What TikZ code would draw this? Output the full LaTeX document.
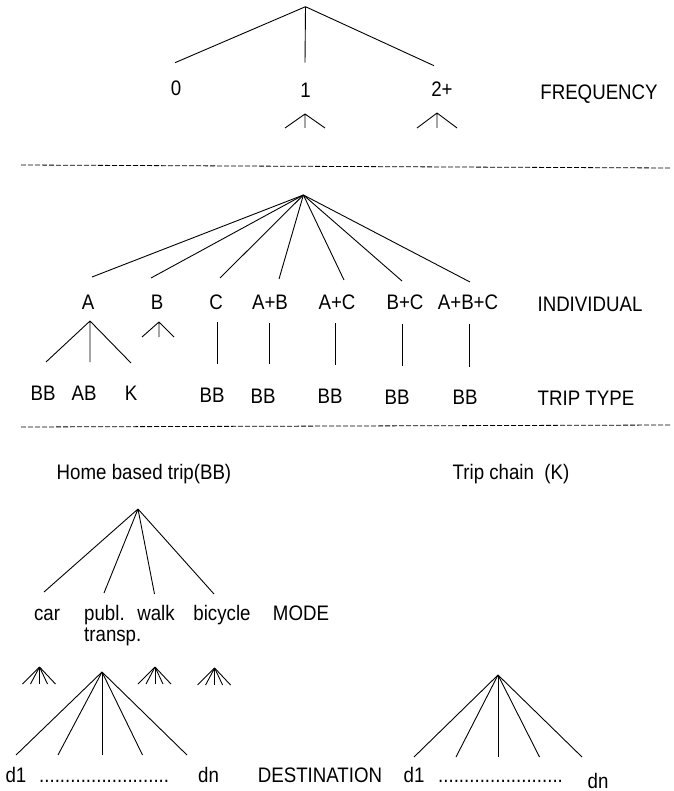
\documentclass[tikz,border=0pt]{standalone}
\usepackage{fontspec}
\setmainfont{Liberation Sans}[FakeStretch=0.89]
\begin{document}
\begin{tikzpicture}[x=1pt,y=-1pt,
  every node/.style={font=\fontsize{21}{24}\selectfont, inner sep=0pt},
  edge/.style={line width=0.9pt},
  sepline/.style={line width=0.8pt, dash pattern=on 5pt off 2pt}]
\useasboundingbox (0,0) rectangle (673,791);

% ---------------- FREQUENCY ----------------
\coordinate (fr) at (305.5,6.7);
\coordinate (fr0) at (175,62.7);
\coordinate (fr1) at (305,62.7);
\coordinate (fr2) at (434,65.7);
\draw[edge] (fr) -- (fr0) (fr) -- (fr1) (fr) -- (fr2);
\node[anchor=base] (l0) at (176,96) {0};
\node[anchor=base] (l1) at (305.5,98) {1};
\node[anchor=base] (l2) at (442,97) {2+};
\node[anchor=base] (lfreq) at (599,99.5) {FREQUENCY};
\coordinate (t1) at (305,114);
\coordinate (t1a) at (285,128); \coordinate (t1b) at (305,128); \coordinate (t1c) at (325,128);
\draw[edge] (t1) -- (t1a) (t1) -- (t1b) (t1) -- (t1c);
\coordinate (t2) at (437,113);
\coordinate (t2a) at (417,128); \coordinate (t2b) at (437,128); \coordinate (t2c) at (457,128);
\draw[edge] (t2) -- (t2a) (t2) -- (t2b) (t2) -- (t2c);

\coordinate (s1l) at (21,165); \coordinate (s1r) at (670,168);
\draw[sepline] (s1l) -- (s1r);

% ---------------- INDIVIDUAL ----------------
\coordinate (ind) at (303.4,195);
\coordinate (iA) at (92,277);
\coordinate (iB) at (151,278);
\coordinate (iC) at (220,278);
\coordinate (iAB) at (279,279);
\coordinate (iAC) at (344,280);
\coordinate (iBC) at (402,281);
\coordinate (iABC) at (470,282);
\foreach \e in {iA,iB,iC,iAB,iAC,iBC,iABC} \draw[edge] (ind) -- (\e);
\node[anchor=base] (nA) at (88,309.5) {A};
\node[anchor=base] (nB) at (157,309.5) {B};
\node[anchor=base] (nC) at (216,309.5) {C};
\node[anchor=base] (nAB) at (270,309.5) {A+B};
\node[anchor=base] (nAC) at (337,309.5) {A+C};
\node[anchor=base] (nBC) at (405,309.5) {B+C};
\node[anchor=base] (nABC) at (468,309.5) {A+B+C};
\node[anchor=base] (lind) at (590,311.5) {INDIVIDUAL};

% A tree
\coordinate (ta) at (90,321);
\coordinate (ta1) at (46,362); \coordinate (ta2) at (90,362); \coordinate (ta3) at (131,363);
\draw[edge] (ta) -- (ta1) (ta) -- (ta2) (ta) -- (ta3);
% B small tent
\coordinate (tb) at (159,322);
\coordinate (tb1) at (142,337); \coordinate (tb2) at (159,337); \coordinate (tb3) at (174,337);
\draw[edge] (tb) -- (tb1) (tb) -- (tb2) (tb) -- (tb3);
% single stems
\coordinate (vc1) at (217,322); \coordinate (vc2) at (217,364);
\coordinate (vab1) at (269,323); \coordinate (vab2) at (269,364);
\coordinate (vac1) at (335,323); \coordinate (vac2) at (335,365);
\coordinate (vbc1) at (402,324); \coordinate (vbc2) at (402,366);
\coordinate (vabc1) at (469,324); \coordinate (vabc2) at (469,367);
\draw[edge] (vc1) -- (vc2) (vab1) -- (vab2) (vac1) -- (vac2) (vbc1) -- (vbc2) (vabc1) -- (vabc2);

% TRIP TYPE
\node[anchor=base] (bb1) at (43,400.5) {BB};
\node[anchor=base] (ab1) at (84,400.5) {AB};
\node[anchor=base] (k1) at (131,400.5) {K};
\node[anchor=base] (bb2) at (212,402.5) {BB};
\node[anchor=base] (bb3) at (263,403.5) {BB};
\node[anchor=base] (bb4) at (330,403.5) {BB};
\node[anchor=base] (bb5) at (397,404.5) {BB};
\node[anchor=base] (bb6) at (465,404.5) {BB};
\node[anchor=base] (ltrip) at (586,405.5) {TRIP TYPE};

\coordinate (s2l) at (21,427); \coordinate (s2r) at (670,425);
\draw[sepline] (s2l) -- (s2r);

% ---------------- MODE ----------------
\node (hb) at (144,474) {Home based trip(BB)};
\node (tc) at (511,474) {Trip chain\ \ (K)};
\coordinate (md) at (138,509);
\coordinate (mcar) at (44,592);
\coordinate (mpub) at (104,593);
\coordinate (mwalk) at (154.5,594);
\coordinate (mbic) at (214,594);
\draw[edge] (md) -- (mcar) (md) -- (mpub) (md) -- (mwalk) (md) -- (mbic);
\node[anchor=base] (car) at (47,620) {car};
\node[anchor=base west] (pub) at (84,620) {publ.};
\node[anchor=base west] (transp) at (84,641) {transp.};
\node[anchor=base] (walk) at (156,620) {walk};
\node[anchor=base] (bic) at (222,620) {bicycle};
\node[anchor=base] (lmode) at (301,620) {MODE};

% small fans
\foreach \cx/\cy in {39.5/667, 155/667, 214.6/668}{
  \coordinate (fan) at (\cx,\cy);
  \foreach \dx in {-17,-9,0,8,16}{
    \coordinate (fanend) at (\cx+\dx,\cy+17);
    \draw[edge] (fan) -- (fanend);
  }
}

% ---------------- DESTINATION ----------------
\coordinate (dl) at (102,672);
\foreach \ex [count=\i] in {16,58,102,142.5,187}{
  \coordinate (dl\i) at (\ex,755);
  \draw[edge] (dl) -- (dl\i);
}
\coordinate (dr) at (498,675);
\foreach \ex [count=\i] in {414,456,498,539.5,582}{
  \coordinate (dr\i) at (\ex,757);
  \draw[edge] (dr) -- (dr\i);
}
\node[anchor=base] (d1l) at (16,782) {d1};
\node[anchor=base west] (dotsl) at (39,782) {.........................};
\node[anchor=base] (dnl) at (208.5,782) {dn};
\node[anchor=base] (ldest) at (320,782) {DESTINATION};
\node[anchor=base] (d1r) at (414,782) {d1};
\node[anchor=base west] (dotsr) at (438,782) {........................};
\node[anchor=base] (dnr) at (598,788) {dn};
\end{tikzpicture}
\end{document}
